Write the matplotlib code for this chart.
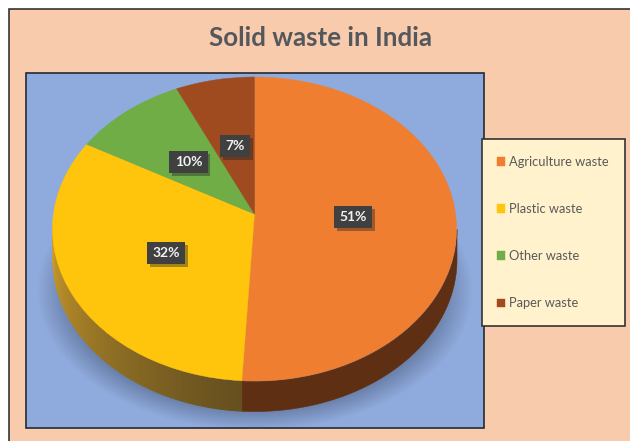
import numpy as np
import matplotlib; matplotlib.use("Agg")
import matplotlib.pyplot as plt
from matplotlib.patches import Rectangle
from matplotlib.colors import to_rgb
import matplotlib.patheffects as pe

categories = ["Agriculture waste", "Plastic waste", "Other waste", "Paper waste"]
values = [51, 32, 10, 7]
# shares as they appear on the tilted pie (perspective stretches the front slices)
drawn_shares = [51, 33.4, 9.3, 6.3]
colors = ["#F07E30", "#FFC50D", "#70AD47", "#A04A20"]

W, H = 630, 441
CX, CY, RX, RY = 254.5, 229, 202, 152
APEX_Y = 214  # slices meet above the ellipse centre
DEPTH = 30
plt.rcParams["font.family"] = ["Lato", "DejaVu Sans"]

fig = plt.figure(figsize=(W / 100, H / 100), dpi=100, facecolor="white")
ax = fig.add_axes([0, 0, 1, 1])
ax.axis("off")

# chart area + plot area
ax.add_patch(Rectangle((8.5, 8.5), W, H, fc="#F8CBAD", ec="#333333", lw=1.2, zorder=1))
ax.add_patch(Rectangle((26, 72.5), 458, 355, fc="#8FAADC", ec="#222a35", lw=1.2, zorder=2))
ax.text(320.5, 38, "Solid waste in India", ha="center", va="center", fontsize=18.6,
        fontweight="bold", color="#54585c", zorder=5)

# soft shadow under the pie
xx, yy = np.meshgrid(np.arange(27, 484), np.arange(74, 427))
d = np.sqrt(((xx - CX) / 218) ** 2 + ((yy - 290) / 140) ** 2)
shadow = np.zeros(xx.shape + (4,))
shadow[..., :3] = to_rgb("#3f4f6e")
shadow[..., 3] = np.clip((1 - d) / 0.14, 0, 1) * 0.45
ax.imshow(shadow, extent=(27, 484, 427, 74), zorder=3, aspect="auto", interpolation="bilinear")
ax.set_xlim(0, W); ax.set_ylim(H, 0)

# side wall, angles follow the pie (clockwise from 12 o'clock)
edge = drawn_shares[0] / sum(drawn_shares) * 360
wall_dark, wall_light = np.array(to_rgb("#66501F")), np.array(to_rgb("#CC9C2B"))
tt = np.radians(np.linspace(90, edge, 80))
x = CX + RX * np.sin(tt)
y = CY - RY * np.cos(tt)
ax.fill_between(x, y, y + DEPTH, color="#5E2F12", lw=0.4, zorder=4.1)
for t0 in np.arange(edge, 270, 1.5):
    tt = np.radians(np.linspace(t0, t0 + 1.5, 4))
    x = CX + RX * np.sin(tt)
    y = CY - RY * np.cos(tt)
    c = wall_dark + (wall_light - wall_dark) * ((t0 - edge) / (270 - edge)) ** 1.2
    ax.fill_between(x, y, y + DEPTH, color=c, lw=0.6, zorder=4)

# top of the pie, squashed into an ellipse
pax = fig.add_axes([(CX - RX) / W, 1 - (CY + RY) / H, 2 * RX / W, 2 * RY / H])
pax.patch.set_alpha(0)
wedges, _ = pax.pie(drawn_shares, colors=colors, startangle=90, counterclock=False, radius=1)
for w, c in zip(wedges, colors):
    w.set_edgecolor(c); w.set_linewidth(0.3)
    # move the wedge tip up to the apex
    v = w.get_path().vertices
    v[np.hypot(v[:, 0], v[:, 1]) < 1e-6] = (0, (CY - APEX_Y) / RY)
pax.set_aspect("auto"); pax.set_xlim(-1, 1); pax.set_ylim(-1, 1)

# overlay for labels and legend
lax = fig.add_axes([0, 0, 1, 1]); lax.axis("off")
lax.set_xlim(0, W); lax.set_ylim(H, 0)

label_xy = [(353, 217), (166, 253), (188.5, 162), (235, 146)]
for (lx, ly), v in zip(label_xy, values):
    t = lax.text(lx, ly, f"{v}%", ha="center", va="center", fontsize=10, fontweight="bold",
                 color="#F2F2F2", bbox=dict(boxstyle="square,pad=0.38", fc="#404040", ec="none"))
    t.get_bbox_patch().set_path_effects([
        pe.withSimplePatchShadow(offset=(2, -2), shadow_rgbFace="#222222", alpha=0.4),
        pe.Normal()])

lax.add_patch(Rectangle((481.5, 139), 143, 187, fc="#FFF2CC", ec="#333333", lw=1.2))
lax.legend(wedges, categories, loc="center left", bbox_to_anchor=(497 / W, 1 - 232.7 / H),
           frameon=False, fontsize=9.3, labelcolor="#595959", handlelength=0.65,
           handleheight=0.65, handletextpad=0.25, labelspacing=2.72, borderpad=0, borderaxespad=0)

fig.savefig("out.png", dpi=100)
